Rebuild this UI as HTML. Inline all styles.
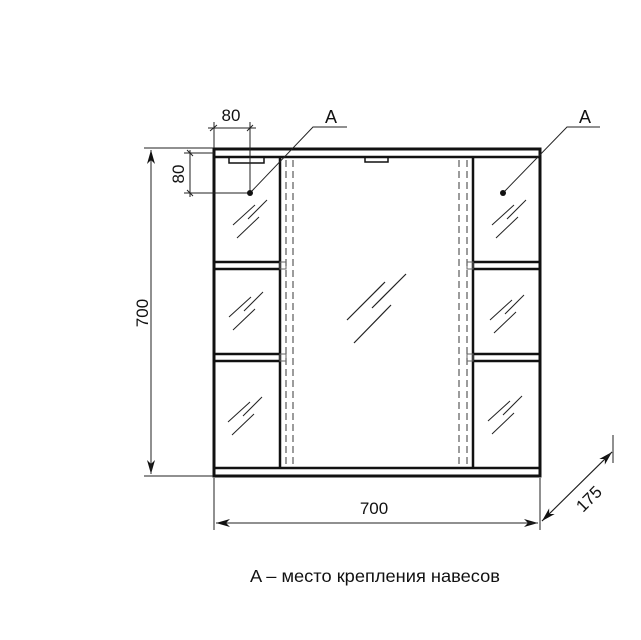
<!DOCTYPE html>
<html><head><meta charset="utf-8"><style>
html,body{margin:0;padding:0;background:#fff;}
svg{display:block;}
text{font-family:"Liberation Sans","DejaVu Sans",sans-serif;fill:#111;}
</style></head><body>
<svg width="641" height="640" viewBox="0 0 641 640" xmlns="http://www.w3.org/2000/svg">
<defs>
<g id="gs" stroke="#222" stroke-width="1">
<line x1="0" y1="0" x2="22" y2="-20"/><line x1="15" y1="-6" x2="34" y2="-25"/><line x1="4" y1="13" x2="26" y2="-8"/>
</g>
<marker id="ar" markerWidth="14" markerHeight="8" refX="14" refY="4" orient="auto" markerUnits="userSpaceOnUse">
<path d="M0,0 L14,4 L0,8 L4,4 Z" fill="#111"/></marker>
</defs>
<g fill="none" stroke="#111">
<rect x="214" y="149" width="326" height="327" stroke-width="3"/>
<line x1="214" y1="157" x2="540" y2="157" stroke-width="2.5"/>
<line x1="214" y1="468" x2="540" y2="468" stroke-width="2.5"/>
<line x1="280" y1="157" x2="280" y2="468" stroke-width="2.5"/>
<line x1="473" y1="157" x2="473" y2="468" stroke-width="2.5"/>
<line x1="214" y1="262" x2="280" y2="262" stroke-width="2.5"/><line x1="214" y1="269" x2="280" y2="269" stroke-width="2.5"/>
<line x1="214" y1="354" x2="280" y2="354" stroke-width="2.5"/><line x1="214" y1="361" x2="280" y2="361" stroke-width="2.5"/>
<line x1="473" y1="262" x2="540" y2="262" stroke-width="2.5"/><line x1="473" y1="269" x2="540" y2="269" stroke-width="2.5"/>
<line x1="473" y1="354" x2="540" y2="354" stroke-width="2.5"/><line x1="473" y1="361" x2="540" y2="361" stroke-width="2.5"/>
<g stroke="#666" stroke-width="1">
<rect x="280" y="262" width="6" height="7"/><rect x="280" y="354" width="6" height="7"/>
<rect x="467" y="262" width="6" height="7"/><rect x="467" y="354" width="6" height="7"/>
</g>
<g stroke="#666" stroke-width="1.3" stroke-dasharray="7,4">
<line x1="286" y1="160" x2="286" y2="466"/><line x1="293" y1="160" x2="293" y2="466"/>
<line x1="459" y1="160" x2="459" y2="466"/><line x1="467" y1="160" x2="467" y2="466"/>
</g>
<rect x="229" y="157" width="35" height="6" stroke-width="1.5"/>
<rect x="365" y="157" width="23" height="5" stroke-width="1.5"/>
</g>
<use href="#gs" x="233" y="225"/><use href="#gs" x="229" y="317"/><use href="#gs" x="228" y="422"/>
<use href="#gs" x="492" y="225"/><use href="#gs" x="490" y="320"/><use href="#gs" x="488" y="421"/>
<g stroke="#222" stroke-width="1.2">
<line x1="347" y1="320" x2="385" y2="282"/><line x1="372" y1="308" x2="406" y2="274"/><line x1="354" y1="343" x2="391" y2="305"/>
</g>
<g stroke="#222" stroke-width="1" fill="none">
<line x1="144" y1="148" x2="213" y2="148"/><line x1="144" y1="476" x2="213" y2="476"/>
<line x1="214" y1="478" x2="214" y2="530"/><line x1="540" y1="478" x2="540" y2="530"/>
<line x1="216" y1="523" x2="538" y2="523" marker-end="url(#ar)"/>
<line x1="538" y1="523" x2="216" y2="523" marker-end="url(#ar)"/>
<line x1="151" y1="150" x2="151" y2="474" marker-end="url(#ar)"/>
<line x1="151" y1="474" x2="151" y2="150" marker-end="url(#ar)"/>
<line x1="542" y1="521" x2="612" y2="452" marker-end="url(#ar)"/>
<line x1="612" y1="452" x2="542" y2="521" marker-end="url(#ar)"/>
<line x1="613" y1="435" x2="613" y2="463"/>
<line x1="214" y1="122" x2="214" y2="148"/><line x1="250" y1="122" x2="250" y2="193"/>
<line x1="208" y1="128" x2="256" y2="128"/>
<line x1="210" y1="131" x2="217" y2="125"/><line x1="247" y1="131" x2="253" y2="125"/>
<line x1="184" y1="153" x2="214" y2="153"/><line x1="184" y1="193" x2="250" y2="193"/>
<line x1="190" y1="150" x2="190" y2="197"/>
<line x1="187" y1="150" x2="193" y2="156"/><line x1="187" y1="190" x2="193" y2="196"/>
<polyline points="250,193 313,127 347,127"/>
<polyline points="503,193 567,127 600,127"/>
</g>
<circle cx="250" cy="193" r="3" fill="#111"/>
<circle cx="503" cy="193" r="3" fill="#111"/>
<g font-size="17">
<text x="231" y="121" text-anchor="middle">80</text>
<text x="0" y="0" text-anchor="middle" transform="translate(184,174) rotate(-90)">80</text>
<text x="0" y="0" text-anchor="middle" transform="translate(148,313) rotate(-90)">700</text>
<text x="374" y="514" text-anchor="middle">700</text>
<text x="0" y="0" text-anchor="middle" transform="translate(593,503) rotate(-45)">175</text>
<text x="331" y="123" text-anchor="middle" font-size="18">A</text>
<text x="585" y="123" text-anchor="middle" font-size="18">A</text>
<text x="375" y="582" text-anchor="middle" font-size="17.5" textLength="250" lengthAdjust="spacingAndGlyphs">A – место крепления навесов</text>
</g>
</svg>
</body></html>
